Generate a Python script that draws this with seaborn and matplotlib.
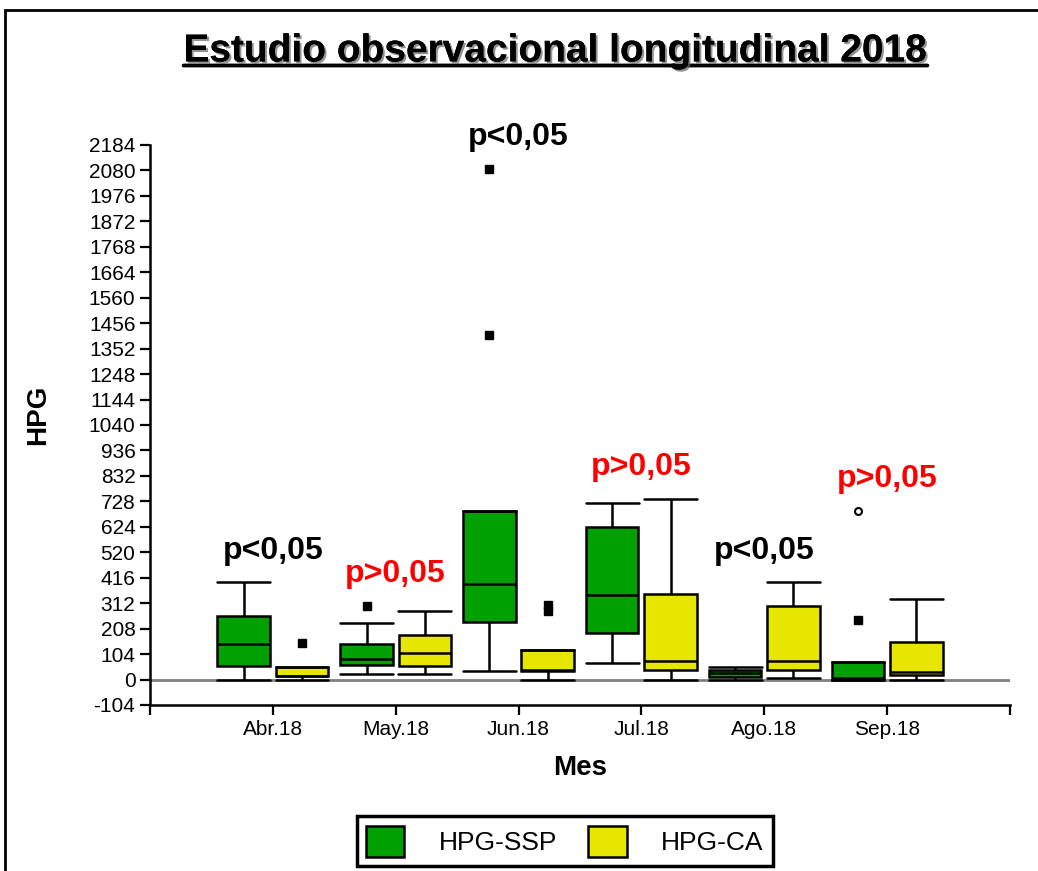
"""
Boxplot HPG por mes - Estudio observacional longitudinal 2018
"""
import numpy as np
import pandas as pd
import matplotlib
matplotlib.use("Agg")
import matplotlib.pyplot as plt
import matplotlib.patheffects as pe
from matplotlib.lines import Line2D
from matplotlib.patches import Rectangle
import seaborn as sns

# Data
months = ["Abr.18", "May.18", "Jun.18", "Jul.18", "Ago.18", "Sep.18"]
groups = ["HPG-SSP", "HPG-CA"]
hpg_ssp = [
    [0, 54, 54, 144, 144, 144, 259, 259, 397],
    [24, 61, 61, 84, 84, 84, 147, 229, 302],
    [33, 234, 234, 392, 392, 690, 690, 1406, 2087],
    [69, 190, 190, 347, 347, 347, 623, 623, 721],
    [0, 10, 10, 25, 25, 25, 38, 38, 50],
    [0, 0, 0, 5, 5, 71, 71, 242, 688],
]
hpg_ca = [
    [0, 14, 14, 16, 16, 16, 52, 52, 150],
    [24, 54, 54, 110, 110, 110, 180, 180, 278],
    [0, 35, 35, 40, 40, 120, 120, 280, 305],
    [0, 37, 37, 76, 76, 76, 351, 351, 739],
    [6, 37, 37, 75, 75, 75, 300, 300, 397],
    [0, 20, 20, 31, 31, 31, 154, 154, 331],
]
p_labels = ["p<0,05", "p>0,05", "p<0,05", "p>0,05", "p<0,05", "p>0,05"]
p_colors = ["black", "red", "black", "red", "black", "red"]
hollow_points = [688]
yticks = list(range(-104, 2185, 104))
colors = ["#00A000", "#E6E600"]

rows = []
for m, s, c in zip(months, hpg_ssp, hpg_ca):
    rows += [(m, "HPG-SSP", v) for v in s]
    rows += [(m, "HPG-CA", v) for v in c]
df = pd.DataFrame(rows, columns=["Mes", "Grupo", "HPG"])

sns.set_style("ticks")
plt.rcParams["font.family"] = ["Liberation Sans", "DejaVu Sans"]
plt.rcParams["text.color"] = "black"
plt.rcParams["axes.labelcolor"] = "black"

fig = plt.figure(figsize=(10.38, 8.71), dpi=100)
ax = fig.add_axes([0.1445, 0.1906, 0.8285, 0.643])

ax.axhline(0, color="#808080", lw=2, zorder=0.5)
sns.boxplot(data=df, x="Mes", y="HPG", hue="Grupo", order=months,
            hue_order=groups, palette=colors, saturation=1,
            width=0.95, gap=0.1, whis=1.5, linecolor="black",
            linewidth=1.8, fliersize=6, capwidths=0.43,
            flierprops=dict(marker="s", markerfacecolor="black",
                            markeredgecolor="black"),
            ax=ax)

# hollow marker for the marked outlier
for ln in list(ax.lines):
    if ln.get_marker() == "s":
        xs, ys = np.asarray(ln.get_xdata()), np.asarray(ln.get_ydata())
        hollow = np.isin(ys, hollow_points)
        if hollow.any():
            ln.set_data(xs[~hollow], ys[~hollow])
            ax.plot(xs[hollow], ys[hollow], ls="none", marker="o", ms=5,
                    mfc="white", mec="black", mew=1.5)

# p-value annotations above each month
for i, (lab, col) in enumerate(zip(p_labels, p_colors)):
    top = max(max(hpg_ssp[i]), max(hpg_ca[i]))
    ax.text(i, top + 130, lab, color=col, ha="center", va="center",
            fontsize=23, fontweight="bold", clip_on=False)

ax.set_xlim(-1, 6)
ax.set_xticks(range(-1, 7))
ax.set_xticklabels([""] + months + [""])
ax.set_ylim(-104, 2184)
ax.set_yticks(yticks)
ax.set_yticklabels([str(v) for v in yticks])
ax.tick_params(axis="both", length=7, width=1.6, labelsize=15, colors="black")
sns.despine(ax=ax)
for side in ["left", "bottom"]:
    ax.spines[side].set_linewidth(1.8)
    ax.spines[side].set_color("black")

ax.set_xlabel("Mes", fontsize=20, fontweight="bold")
ax.set_ylabel("HPG", fontsize=20, fontweight="bold")
ax.xaxis.set_label_coords(0.5, -0.09)
ax.yaxis.set_label_coords(-0.115, 0.518)

# legend at the bottom in a box
handles, labels = ax.get_legend_handles_labels()
if ax.legend_ is not None:
    ax.legend_.remove()
leg = fig.legend(handles, labels, loc="center", bbox_to_anchor=(0.544, 0.034),
                 ncol=2, frameon=True, fancybox=False, edgecolor="black",
                 framealpha=1, fontsize=19, handlelength=1.45,
                 handleheight=1.45, columnspacing=1.2, handletextpad=1.3,
                 borderpad=0.35)
leg.get_frame().set_linewidth(2.5)

# title with underline and shadow
shadow = [pe.withSimplePatchShadow(offset=(1.5, -1.5), shadow_rgbFace="0.4", alpha=0.7),
          pe.Normal()]
title = fig.text(0.535, 0.941, "Estudio observacional longitudinal 2018",
                 ha="center", va="center", fontsize=28, fontweight="bold",
                 path_effects=shadow)
fig.canvas.draw()
bb = title.get_window_extent().transformed(fig.transFigure.inverted())
uy = bb.y0 + 4 / 871
fig.add_artist(Line2D([bb.x0, bb.x1], [uy, uy], transform=fig.transFigure,
                      color="black", lw=2.5, path_effects=shadow))

# outer frame (left and top edges visible)
fig.add_artist(Rectangle((5 / 1038, -0.1), 1.2, (871 - 10) / 871 + 0.1,
                         transform=fig.transFigure, fill=False,
                         ec="black", lw=2))

plt.savefig("out.png", dpi=100)
